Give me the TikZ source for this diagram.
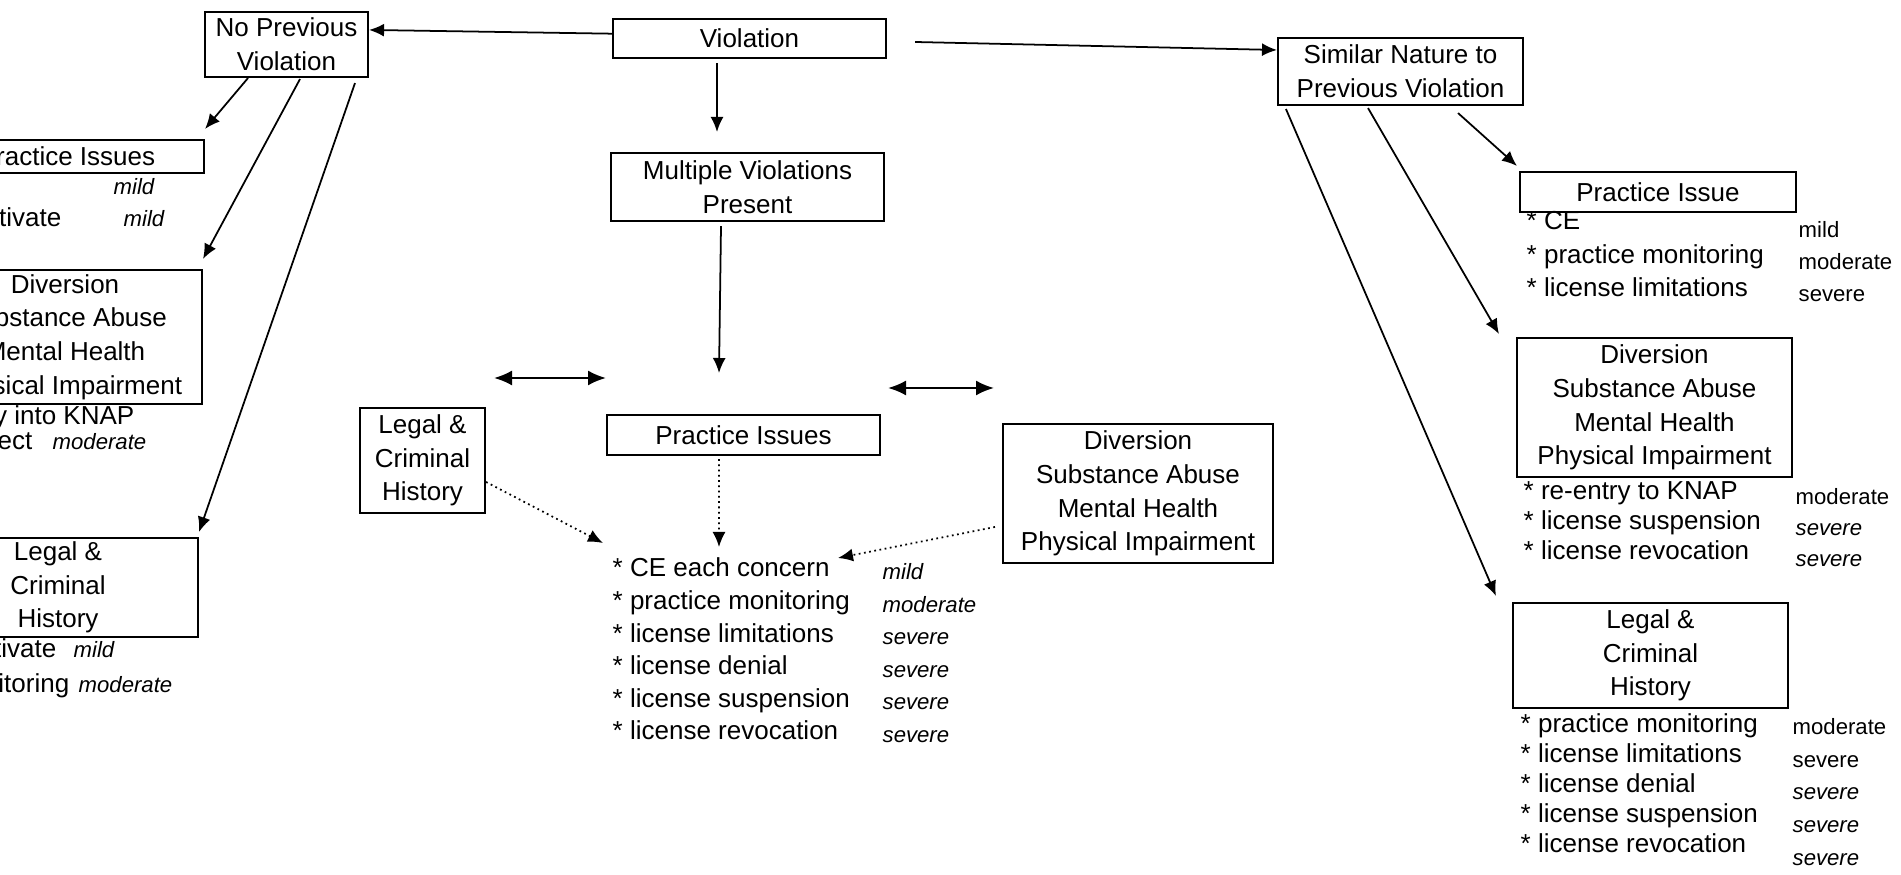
\documentclass[tikz,border=0pt]{standalone}
\usepackage{fontspec}
\setmainfont{Liberation Sans}
\usetikzlibrary{positioning, calc, arrows.meta}

\begin{document}
\begin{tikzpicture}[x=0.1mm, y=-0.1mm,
    box/.style={draw, line width=0.6pt, inner sep=0pt, align=center,
      font=\fontsize{7.4pt}{9.6pt}\selectfont},
    item/.style={anchor=base west, inner sep=0pt, font=\fontsize{7.4pt}{9.6pt}\selectfont},
    sev/.style={anchor=base west, inner sep=0pt, font=\fontsize{6.3pt}{8pt}\selectfont},
    arr/.style={line width=0.5pt, -{Latex[length=1.5mm, width=1.3mm]}},
    dotarr/.style={line width=0.5pt, densely dotted, -{Latex[length=1.5mm, width=1.3mm]}},
    dblarr/.style={line width=0.6pt, {Latex[length=1.8mm, width=1.5mm]}-{Latex[length=1.8mm, width=1.5mm]}}]
    \useasboundingbox (0,0) rectangle (1901,875);
    \clip (0,0) rectangle (1901,875);

    % top row
    \node[box, minimum width=27.3mm, minimum height=3.9mm] (viol) at (749.5,38.5) {Violation};
    \node[box, minimum width=16.3mm, minimum height=6.5mm] (noprev) at (286.5,44.5) {No Previous\\Violation};
    \node[box, minimum width=24.5mm, minimum height=6.7mm] (similar) at (1400.5,71.5) {Similar Nature to\\Previous Violation};
    \node[box, minimum width=27.3mm, minimum height=6.8mm] (multi) at (747.5,187) {Multiple Violations\\Present};

    % left column (cut by the page edge)
    \node[box, minimum width=27.4mm, minimum height=3.3mm] (lpract) at (67,156.5) {Practice Issues};
    \node[box, minimum width=27.4mm, minimum height=13.4mm] (ldiv) at (65,337) {Diversion\\Substance Abuse\\Mental Health\\Physical Impairment};
    \node[box, minimum width=28mm, minimum height=9.9mm] (llegal) at (58,587.5) {Legal \&\\Criminal\\History};
    \node[sev, font=\fontsize{6.3pt}{8pt}\selectfont\itshape] (lpsev-1) at (113,195) {mild};
    \node[item, anchor=base east] (lpitem-2) at (62,227) {tivate};
    \node[sev, font=\fontsize{6.3pt}{8pt}\selectfont\itshape] (lpsev-2) at (123,227) {mild};
    \node[item, anchor=base east] (lditem-1) at (135,425) {y into KNAP};
    \node[item, anchor=base east] (lditem-2) at (33,450) {ect};
    \node[sev, font=\fontsize{6.3pt}{8pt}\selectfont\itshape] (ldsev-2) at (52,450) {moderate};
    \node[item, anchor=base east] (llitem-1) at (57,658) {tivate};
    \node[sev, font=\fontsize{6.3pt}{8pt}\selectfont\itshape] (llsev-1) at (73,658) {mild};
    \node[item, anchor=base east] (llitem-2) at (70,693) {itoring};
    \node[sev, font=\fontsize{6.3pt}{8pt}\selectfont\itshape] (llsev-2) at (78,693) {moderate};

    % middle
    \node[box, minimum width=12.5mm, minimum height=10.5mm] (mlegal) at (422.5,460.5) {Legal \&\\Criminal\\History};
    \node[box, minimum width=27.3mm, minimum height=4mm] (mpract) at (743.5,435) {Practice Issues};
    \node[box, minimum width=27mm, minimum height=13.9mm] (mdiv) at (1138,493.5) {Diversion\\Substance Abuse\\Mental Health\\Physical Impairment};
    \foreach \txt/\lvl [count=\i from 0] in {CE each concern/mild, practice monitoring/moderate,
        license limitations/severe, license denial/severe, license suspension/severe,
        license revocation/severe} {
      \node[item] (mid-\i) at (612,{577+32.6*\i}) {* \txt};
      \node[sev] (midsev-\i) at (882,{580+32.5*\i}) {\itshape\lvl};
    }
    \coordinate (hub) at (719,373);
    \coordinate (dl1) at (494,378);
    \coordinate (dl2) at (606,378);
    \coordinate (dr1) at (888,388);
    \coordinate (dr2) at (994,388);

    % right column
    \node[box, minimum width=27.6mm, minimum height=4mm] (rpract) at (1658,192) {Practice Issue};
    \node[box, minimum width=27.5mm, minimum height=13.9mm] (rdiv) at (1654.5,407.5) {Diversion\\Substance Abuse\\Mental Health\\Physical Impairment};
    \node[box, minimum width=27.5mm, minimum height=10.5mm] (rlegal) at (1650.5,655.5) {Legal \&\\Criminal\\History};
    \foreach \txt/\lvl [count=\i from 0] in {CE/mild, practice monitoring/moderate, license limitations/severe} {
      \node[item] (rp-\i) at (1526,{230+33.5*\i}) {* \txt};
      \node[sev] (rpsev-\i) at (1798,{238+32*\i}) {\lvl};
    }
    \foreach \txt/\lvl [count=\i from 0] in {re-entry to KNAP/moderate, license suspension/\itshape severe,
        license revocation/\itshape severe} {
      \node[item] (rd-\i) at (1523,{500+30*\i}) {* \txt};
      \node[sev] (rdsev-\i) at (1795,{505+31*\i}) {\lvl};
    }
    \foreach \txt/\lvl [count=\i from 0] in {practice monitoring/moderate, license limitations/severe,
        license denial/\itshape severe, license suspension/\itshape severe,
        license revocation/\itshape severe} {
      \node[item] (rl-\i) at (1520,{733+30*\i}) {* \txt};
      \node[sev] (rlsev-\i) at (1792,{735+32.5*\i}) {\lvl};
    }

    % connectors
    \draw[arr] (viol.178) -- (noprev.10);
    \draw[arr] ([xshift=-3.25mm, yshift=-0.4mm]viol.south) -- ([xshift=-3.05mm, yshift=2mm]multi.north);
    \draw[arr] ([xshift=2.8mm, yshift=-0.35mm]viol.east) -- ([yshift=2.15mm]similar.west);
    \draw[arr] ([xshift=-3.85mm]noprev.south) -- ([yshift=1mm]lpract.north east);
    \draw[arr] ([xshift=1.35mm, yshift=-0.1mm]noprev.south) -- ([yshift=1mm]ldiv.north east);
    \draw[arr] ([xshift=6.85mm, yshift=-0.5mm]noprev.south) -- ([yshift=0.5mm]llegal.north east);
    \draw[arr] ([xshift=-2.65mm, yshift=-0.4mm]multi.south) -- (hub);
    \draw[dblarr] (dl1) -- (dl2);
    \draw[dblarr] (dr1) -- (dr2);
    \draw[dotarr] ([yshift=-2.15mm]mlegal.east) -- ([shift={(-0.9mm,3.4mm)}]mid-0.base west);
    \draw[dotarr] ([xshift=-2.45mm, yshift=-0.3mm]mpract.south) -- ([shift={(10.7mm,3mm)}]mid-0.base west);
    \draw[dotarr] ([shift={(-0.7mm,-3.35mm)}]mdiv.west) -- ([shift={(22.6mm,1.9mm)}]mid-0.base west);
    \draw[arr] ([xshift=5.75mm, yshift=-0.7mm]similar.south) -- ([xshift=-0.2mm, yshift=0.5mm]rpract.north west);
    \draw[arr] ([xshift=-3.25mm, yshift=-0.2mm]similar.south) -- ([xshift=-1.7mm, yshift=0.3mm]rdiv.north west);
    \draw[arr] ([xshift=0.9mm, yshift=-0.3mm]similar.south west) -- ([xshift=-1.6mm, yshift=0.6mm]rlegal.north west);
\end{tikzpicture}
\end{document}
